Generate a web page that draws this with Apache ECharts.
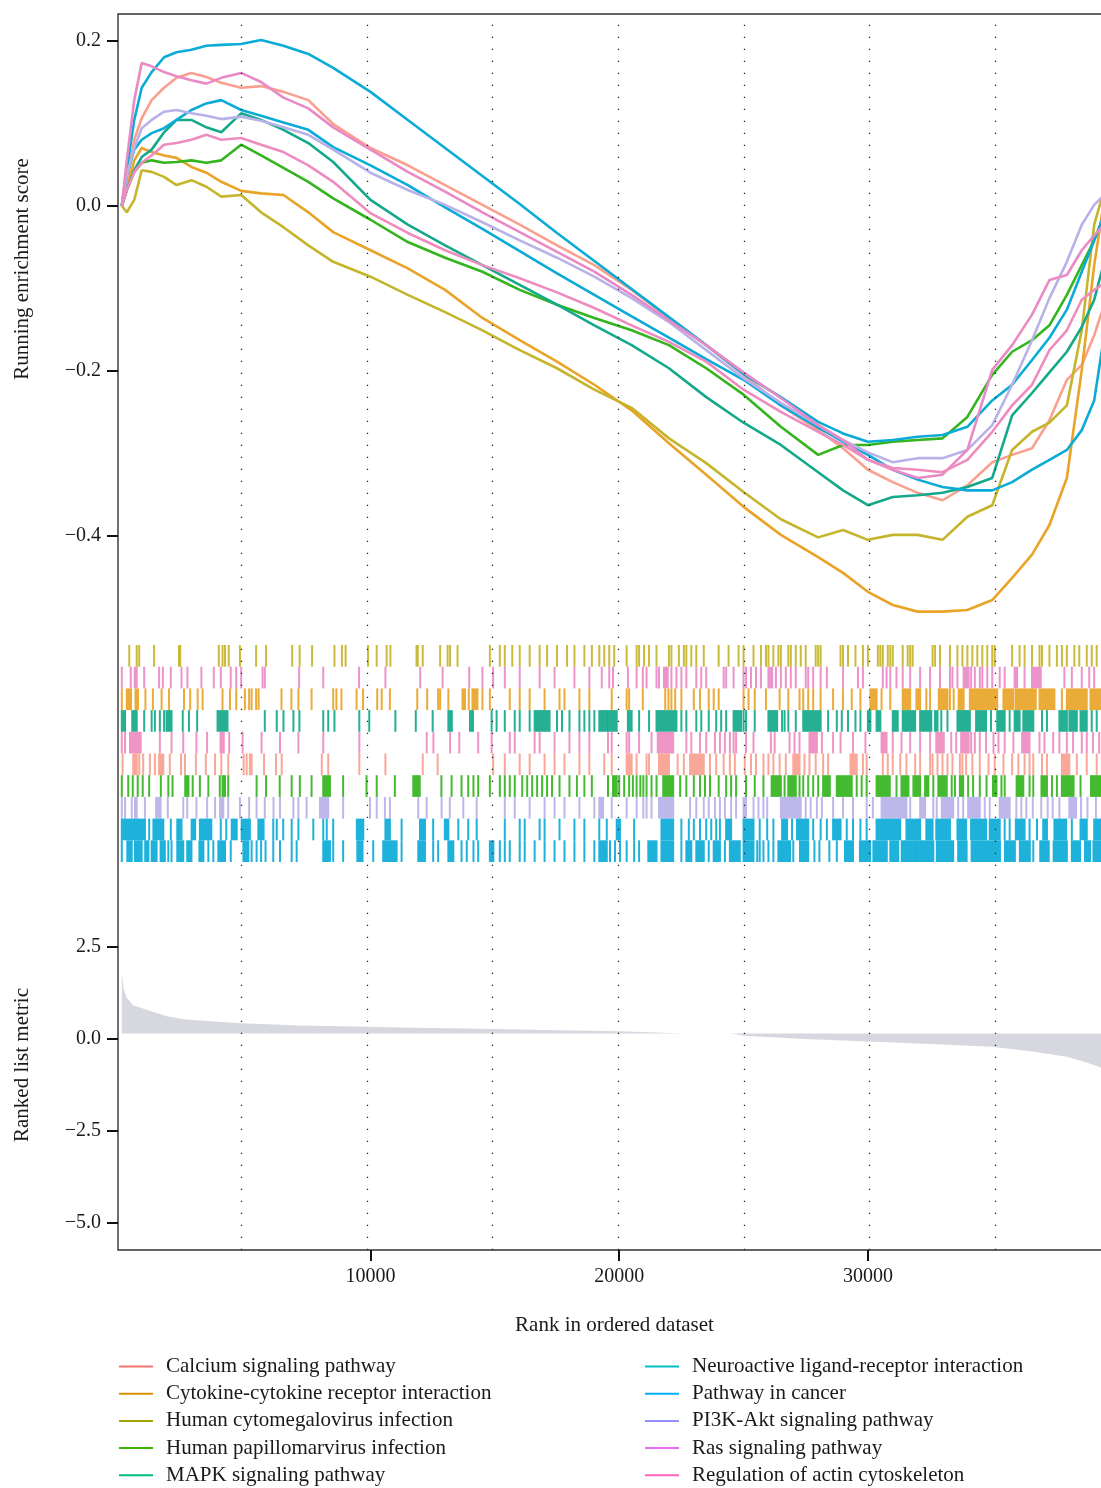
<!DOCTYPE html>
<html><head><meta charset="utf-8">
<script src="https://cdn.jsdelivr.net/npm/echarts@6/dist/echarts.min.js"></script>
<style>html,body{margin:0;padding:0;background:#fff}#c{width:1101px;height:1488px}</style>
</head><body><div id="c"></div>
<script>
const FONT = '"Liberation Serif", "DejaVu Serif", serif';

const pathways = [
  'Calcium signaling pathway', 'Cytokine-cytokine receptor interaction', 'Human cytomegalovirus infection',
  'Human papillomarvirus infection', 'MAPK signaling pathway', 'Neuroactive ligand-receptor interaction',
  'Pathway in cancer', 'PI3K-Akt signaling pathway', 'Ras signaling pathway', 'Regulation of actin cytoskeleton'
];
const legendColors = ['#F8766D', '#D89000', '#A3A500', '#39B600', '#00BF7D', '#00BFC4', '#00B0F6', '#9590FF', '#E76BF3', '#FF62BC'];
const lineColors = ['#F9A08F', '#E9A427', '#C5B52C', '#34B41F', '#14A98A', '#0BABD7', '#0BABD7', '#B8B2E8', '#E98AC6', '#EE8CC0'];

// running enrichment score (x = rank)
const esRanks = [0,200,500,800,1200,1700,2200,2800,3400,4000,4800,5600,6500,7500,8500,10000,11500,13000,14500,16000,17500,19000,20500,22000,23500,25000,26500,28000,29000,30000,31000,32000,33000,34000,35000,35800,36600,37300,38000,38600,39100,39500];
const esCalcium = [0,0.025,0.080,0.106,0.128,0.143,0.155,0.161,0.156,0.149,0.143,0.145,0.138,0.128,0.099,0.070,0.049,0.025,0.001,-0.023,-0.048,-0.072,-0.102,-0.136,-0.169,-0.205,-0.242,-0.272,-0.294,-0.320,-0.335,-0.348,-0.357,-0.339,-0.311,-0.302,-0.294,-0.260,-0.211,-0.193,-0.157,-0.120];
const esCytokine = [0,0.019,0.055,0.070,0.065,0.061,0.058,0.047,0.040,0.029,0.018,0.015,0.013,-0.008,-0.032,-0.054,-0.076,-0.102,-0.136,-0.163,-0.189,-0.217,-0.248,-0.288,-0.326,-0.365,-0.399,-0.426,-0.445,-0.468,-0.484,-0.492,-0.492,-0.490,-0.478,-0.451,-0.423,-0.387,-0.330,-0.199,-0.072,0.007];
const esCytomegalovirus = [0,-0.008,0.007,0.043,0.041,0.035,0.025,0.031,0.023,0.011,0.013,-0.008,-0.026,-0.048,-0.068,-0.086,-0.108,-0.129,-0.151,-0.175,-0.197,-0.223,-0.245,-0.282,-0.312,-0.347,-0.380,-0.402,-0.393,-0.405,-0.399,-0.399,-0.405,-0.377,-0.363,-0.296,-0.274,-0.263,-0.242,-0.151,-0.023,0.019];
const esPapilloma = [0,0.019,0.041,0.052,0.055,0.052,0.053,0.055,0.052,0.055,0.074,0.061,0.046,0.029,0.009,-0.017,-0.044,-0.063,-0.080,-0.102,-0.120,-0.136,-0.151,-0.169,-0.197,-0.229,-0.268,-0.302,-0.290,-0.290,-0.286,-0.284,-0.282,-0.256,-0.205,-0.177,-0.163,-0.145,-0.108,-0.072,-0.042,-0.011];
const esMAPK = [0,0.019,0.043,0.059,0.068,0.089,0.104,0.104,0.095,0.089,0.112,0.104,0.092,0.076,0.053,0.007,-0.023,-0.048,-0.072,-0.096,-0.120,-0.145,-0.169,-0.197,-0.232,-0.263,-0.290,-0.323,-0.345,-0.363,-0.353,-0.351,-0.348,-0.341,-0.330,-0.254,-0.227,-0.202,-0.177,-0.147,-0.114,-0.068];
const esNeuroactive = [0,0.037,0.068,0.080,0.088,0.094,0.104,0.116,0.124,0.128,0.116,0.109,0.101,0.092,0.071,0.049,0.025,-0.002,-0.028,-0.055,-0.082,-0.108,-0.134,-0.160,-0.186,-0.211,-0.242,-0.269,-0.286,-0.302,-0.320,-0.332,-0.341,-0.345,-0.345,-0.335,-0.320,-0.308,-0.296,-0.272,-0.236,-0.157];
const esCancer = [0,0.043,0.104,0.143,0.162,0.180,0.186,0.189,0.194,0.195,0.196,0.201,0.194,0.184,0.167,0.138,0.104,0.070,0.036,0.002,-0.033,-0.067,-0.101,-0.135,-0.169,-0.204,-0.232,-0.262,-0.276,-0.286,-0.284,-0.280,-0.278,-0.268,-0.236,-0.217,-0.187,-0.160,-0.126,-0.080,-0.042,-0.011];
const esPI3K = [0,0.037,0.070,0.094,0.104,0.114,0.116,0.112,0.109,0.105,0.108,0.103,0.095,0.086,0.068,0.040,0.019,0.001,-0.020,-0.042,-0.063,-0.086,-0.112,-0.141,-0.175,-0.209,-0.239,-0.266,-0.284,-0.299,-0.311,-0.306,-0.306,-0.296,-0.266,-0.217,-0.163,-0.112,-0.068,-0.023,0.001,0.013];
const esRas = [0,0.055,0.128,0.173,0.169,0.162,0.157,0.152,0.148,0.155,0.161,0.150,0.131,0.118,0.095,0.068,0.041,0.017,-0.008,-0.032,-0.056,-0.080,-0.108,-0.139,-0.169,-0.202,-0.233,-0.266,-0.284,-0.308,-0.320,-0.330,-0.326,-0.296,-0.199,-0.169,-0.132,-0.090,-0.084,-0.054,-0.036,-0.023];
const esActin = [0,0.019,0.041,0.052,0.061,0.074,0.076,0.080,0.086,0.080,0.082,0.074,0.065,0.049,0.029,-0.009,-0.033,-0.054,-0.072,-0.088,-0.105,-0.124,-0.145,-0.165,-0.189,-0.223,-0.250,-0.274,-0.290,-0.308,-0.318,-0.320,-0.323,-0.308,-0.274,-0.242,-0.217,-0.175,-0.151,-0.114,-0.102,-0.094];

// ranked list metric
const metricRanks = [0,60,200,460,1130,1800,2470,3140,4800,7170,9860,11180,15000,17500,20000,21500,22500,24500,25000,27500,30000,32500,35000,36600,38000,38700,39400,39700];
const metricValues = [1.81,1.37,1.10,0.90,0.75,0.60,0.52,0.48,0.41,0.35,0.315,0.29,0.25,0.22,0.19,0.16,0.13,0.13,0.07,-0.02,-0.09,-0.155,-0.23,-0.36,-0.50,-0.64,-0.80,-0.95];

// gene-set hit positions (ranks in thousands; pairs are dense runs)
const hitsCytomegalovirus = [0.3,0.6,0.7,1.3,2.3,2.35,3.9,4.05,4.15,4.3,4.75,5.4,5.8,6.85,7.15,7.65,8.55,8.85,9.0,9.9,10.25,10.65,10.8,11.85,11.9,12.1,12.8,13.1,13.2,13.5,14.8,15.2,15.4,15.7,16.0,16.4,16.8,17.1,17.5,17.9,18.2,18.6,18.9,19.2,19.4,19.6,19.8,20.3,20.7,20.8,21.0,21.2,21.5,22.0,22.1,22.4,22.6,22.7,22.9,23.1,23.4,24.0,24.4,24.8,25.0,25.4,25.7,25.9,26.0,26.2,26.4,26.5,26.8,26.9,27.1,27.3,27.5,27.9,28.0,28.1,28.9,29.0,29.2,29.5,29.8,30.0,30.4,30.5,30.6,30.8,30.9,31.0,31.4,31.6,31.7,31.8,32.6,32.7,32.9,33.3,33.6,33.8,34.0,34.2,34.4,34.6,34.8,35.0,35.1,35.8,36.1,36.3,36.6,36.9,37.0,37.3,37.6,37.8,38.0,38.3,38.5,38.8,39.0,39.2];
const hitsRas = [0.0,0.36,[0.52,0.6],0.9,1.5,1.65,1.97,2.4,2.64,3.2,3.7,3.98,4.38,4.6,4.8,5.66,5.75,7.13,8.1,9.54,10.6,12.0,12.9,13.97,14.5,14.93,15.4,16.0,16.8,17.4,18.2,18.8,19.3,19.6,19.75,20.35,20.7,20.95,21.1,21.5,21.6,[21.8,21.95],22.1,22.3,22.5,22.7,23.1,23.3,23.5,24.2,24.3,24.6,25.0,25.1,25.3,25.5,25.7,[26.0,26.15],26.3,26.5,26.7,26.9,27.1,27.5,27.6,27.8,28.1,28.35,29.0,29.6,29.8,30.6,30.75,30.9,31.15,31.4,31.7,32.1,32.5,32.9,33.3,33.4,33.6,[33.85,34.05],34.15,34.3,34.5,34.6,34.8,35.0,35.3,35.5,[35.9,36.0],36.3,[36.6,36.95],37.9,38.2,38.6,38.9,39.1];
const hitsCytokine = [0.0,[0.2,0.37],[0.55,0.65],0.95,1.25,1.6,1.9,2.5,2.75,3.05,3.25,4.05,4.35,4.6,4.95,5.12,5.22,5.4,5.5,6.42,6.82,7.1,7.63,8.5,8.63,8.83,9.44,9.7,10.27,10.45,10.78,11.88,12.28,12.72,12.8,13.13,[13.7,13.8],13.95,[14.1,14.3],14.5,14.8,15.6,16.0,16.4,17.0,17.6,17.8,18.4,18.8,19.7,20.3,20.4,20.95,21.85,21.98,22.1,22.25,22.5,23.0,23.25,23.6,23.8,24.0,25.0,25.2,25.45,25.9,26.45,26.8,27.25,27.4,27.6,27.8,28.1,28.6,29.0,29.35,29.7,[30.1,30.35],30.55,30.9,[31.4,31.7],[31.95,32.1],32.35,32.5,[32.85,33.2],33.3,33.45,[33.65,33.85],[34.1,35.2],[35.45,35.85],[35.95,36.75],[36.9,37.5],37.8,[38.0,38.8],[38.95,39.4]];
const hitsMAPK = [[0,0.13],[0.42,0.6],0.9,1.2,1.33,1.53,1.7,[1.8,2.0],2.45,2.7,3.03,[3.85,4.25],5.75,6.23,6.5,6.9,7.14,8.1,8.3,8.55,9.55,9.95,11.0,11.82,12.5,[13.13,13.27],[14.0,14.12],14.87,15.07,15.4,15.8,16.0,16.4,[16.6,17.2],17.5,17.7,18.0,18.4,18.6,18.8,19.0,[19.2,19.5],[19.55,19.9],[20.35,20.5],20.8,21.2,[21.5,22.3],22.5,22.7,23.1,23.3,23.6,23.9,24.1,24.3,[24.6,24.9],25.0,25.1,25.45,[26.0,26.35],26.55,26.65,26.8,27.1,[27.4,28.1],28.4,28.75,28.95,29.2,29.5,29.7,[30.0,30.1],[30.35,30.5],[31.0,31.2],[31.4,31.9],[32.1,32.55],[32.7,32.8],32.95,33.2,[33.6,34.1],[34.35,34.75],34.95,[35.2,35.5],35.7,[35.9,36.1],[36.25,36.65],37.0,37.2,[37.7,38.0],[38.1,38.4],[38.55,38.8],39.0,39.2];
const hitsActin = [0.0,0.13,[0.33,0.76],1.53,2.0,2.47,3.0,3.43,[3.97,4.1],4.32,4.86,5.62,6.36,7.1,8.1,9.55,12.26,12.53,13.2,13.57,14.33,14.87,15.6,15.8,16.6,16.8,17.4,18.0,18.4,18.8,19.55,19.7,20.3,20.4,20.8,21.3,[21.55,22.17],22.7,22.9,23.25,23.5,23.85,24.05,24.25,24.45,24.6,24.7,25.1,25.4,26.1,26.25,26.85,27.05,27.25,[27.65,27.95],28.15,28.6,28.9,29.4,29.9,[30.55,30.75],31.0,31.35,31.7,32.1,32.5,[32.75,33.05],33.35,33.55,[33.75,34.05],34.15,34.3,34.5,34.75,35.05,35.25,35.5,35.85,[36.2,36.5],36.9,37.1,37.45,37.7,38.0,38.25,38.6,38.8,39.05,39.3];
const hitsCalcium = [0.03,[0.46,0.6],0.7,0.86,1.13,1.33,[1.5,1.67],1.93,2.38,2.54,2.98,3.38,3.75,4.0,4.28,4.9,5.02,5.15,5.22,5.72,6.2,6.43,8.04,8.3,9.55,10.6,12.1,12.7,14.93,15.4,16.0,16.4,17.0,17.4,17.8,18.4,18.8,19.4,19.7,[20.3,20.5],20.7,21.1,21.2,[21.6,22.0],22.35,22.6,[22.85,23.4],23.65,23.9,24.2,24.45,24.65,25.05,25.3,25.5,25.8,26.0,26.2,26.45,26.7,[27.0,27.25],27.45,27.65,27.9,28.2,28.4,[29.3,29.55],29.8,29.95,30.6,30.8,31.0,31.3,31.55,31.9,32.1,32.5,32.6,32.8,33.0,33.2,33.4,33.7,33.8,33.95,34.2,34.5,34.85,35.1,35.45,35.8,36.05,36.3,36.5,36.65,37.0,37.2,[37.8,38.1],38.4,38.8,39.2];
const hitsPapilloma = [0.0,0.26,0.44,0.64,0.84,1.1,1.57,1.87,2.04,[2.55,2.68],2.85,3.14,3.48,3.94,[4.05,4.15],4.28,5.42,5.8,6.35,6.83,7.16,7.63,[8.1,8.37],8.9,9.84,10.25,10.98,[11.72,11.98],12.85,13.26,13.66,13.93,14.14,14.33,14.8,15.2,15.4,15.6,15.8,16.1,16.3,16.5,16.7,16.9,17.1,17.3,17.6,18.0,18.3,18.6,18.9,19.55,[19.75,19.9],20.0,20.2,20.4,20.55,20.7,20.85,20.97,21.1,21.3,21.5,[21.77,22.17],22.45,22.7,23.0,23.25,23.45,23.65,24.0,24.3,24.5,24.7,25.1,25.45,25.8,[26.13,26.5],26.65,[26.8,27.1],27.25,27.4,27.6,27.8,28.0,[28.2,28.47],[28.75,29.35],29.55,29.75,29.95,[30.35,30.88],31.15,[31.35,31.63],[31.83,32.1],[32.3,32.43],32.63,[32.83,33.17],33.37,33.5,[33.7,33.83],34.03,34.23,34.5,34.77,[35.03,35.17],35.37,35.5,[35.98,36.25],36.5,36.65,[36.98,37.2],37.4,37.6,[37.8,38.27],38.55,[38.97,39.4]];
const hitsPI3K = [0.0,0.13,0.4,0.53,0.6,0.93,[1.38,1.56],1.85,2.47,2.63,3.0,3.43,3.75,[3.95,4.08],4.28,4.75,5.12,5.42,5.75,6.1,6.36,6.9,7.1,7.43,[7.97,8.3],8.9,9.98,10.25,10.58,10.78,11.92,12.26,12.86,13.19,13.73,14.27,15.4,15.8,16.4,17.0,17.4,17.8,18.4,19.0,[19.2,19.35],19.7,20.3,20.7,20.97,21.1,21.3,[21.6,22.17],22.85,23.1,23.4,23.6,23.85,24.05,24.25,24.5,24.7,[25.0,25.1],25.4,25.6,25.8,25.95,[26.5,27.3],27.5,27.7,27.95,28.15,28.6,29.0,29.4,29.95,30.2,[30.55,31.55],31.7,[32.1,32.3],32.63,32.77,[32.97,33.43],33.63,33.83,[34.03,34.5],34.7,34.9,[35.3,35.7],35.97,36.17,36.37,36.63,36.97,37.23,37.43,37.7,[38.1,38.37],38.57,38.83,39.17];
const hitsCancer = [0.0,[0.06,0.93],1.1,[1.27,1.67],1.97,[2.23,2.4],[2.81,2.95],[3.14,3.6],3.98,4.2,[4.42,4.62],[4.82,5.15],[5.49,5.7],6.09,6.23,6.49,6.83,7.1,7.7,8.1,8.24,8.5,[9.45,9.71],[10.6,10.78],11.25,[11.99,12.19],12.52,[12.99,13.13],13.53,13.93,14.27,15.4,16.0,16.2,16.8,17.0,17.6,18.2,18.6,19.2,19.5,[19.9,20.03],20.6,[21.7,22.17],22.5,22.8,23.0,23.25,23.5,23.7,23.9,24.05,[24.3,24.5],[25.0,25.4],25.65,25.95,26.2,[26.55,26.75],26.95,[27.15,27.6],27.8,28.1,28.35,[28.6,28.9],29.15,29.4,29.7,29.95,[30.35,31.3],[31.55,32.1],[32.35,32.6],[32.75,33.3],[33.6,33.95],[34.15,34.75],[34.9,35.3],35.5,35.7,[35.95,36.3],36.5,36.8,[37.05,37.2],[37.5,37.97],38.2,[38.55,38.8],[39.1,39.4]];
const hitsNeuroactive = [0.0,[0.22,0.4],[0.53,0.8],[0.94,1.07],[1.2,1.4],[1.56,1.73],1.87,2.0,[2.23,2.47],[2.63,2.8],[3.12,3.28],3.48,3.68,[3.88,4.15],4.38,[4.89,5.09],5.22,5.42,5.6,5.78,6.09,6.36,6.83,7.03,[8.1,8.37],8.5,8.9,[9.47,9.68],10.11,[10.51,11.05],11.25,[11.92,12.19],12.52,12.72,[13.13,13.33],13.66,13.87,14.14,14.33,[14.8,14.94],15.2,15.4,15.6,16.0,16.2,16.6,17.0,17.4,17.8,18.2,18.6,19.0,[19.2,19.5],19.63,19.83,20.03,20.3,20.6,20.8,[21.17,21.5],[21.7,22.17],22.5,[22.7,22.9],[23.1,23.4],23.6,[23.8,24.05],24.25,[24.45,24.85],[25.0,25.4],25.55,25.65,25.8,26.0,26.2,[26.4,26.87],27.0,[27.27,27.6],27.85,28.05,28.45,28.75,[29.08,29.4],[29.68,30.09],[30.22,30.76],[30.9,31.22],[31.36,31.9],[31.96,32.63],[32.77,33.43],[33.63,33.97],[34.17,35.31],[35.51,35.91],[36.11,36.51],36.65,[36.93,37.27],[37.47,38.0],[38.2,38.53],[38.73,38.93],[39.07,39.4]];

const esTicks = [0.2, 0, -0.2, -0.4];
const metricTicks = [2.5, 0, -2.5, -5];
const rankTicks = [10000, 20000, 30000];
const gridLineRanks = [5000, 10000, 15000, 20000, 25000, 30000, 35000];

const esByPathway = [esCalcium, esCytokine, esCytomegalovirus, esPapilloma, esMAPK, esNeuroactive, esCancer, esPI3K, esRas, esActin];
// rug rows, top to bottom
const rugRows = [
  ['Human cytomegalovirus infection', hitsCytomegalovirus],
  ['Ras signaling pathway', hitsRas],
  ['Cytokine-cytokine receptor interaction', hitsCytokine],
  ['MAPK signaling pathway', hitsMAPK],
  ['Regulation of actin cytoskeleton', hitsActin],
  ['Calcium signaling pathway', hitsCalcium],
  ['Human papillomarvirus infection', hitsPapilloma],
  ['PI3K-Akt signaling pathway', hitsPI3K],
  ['Pathway in cancer', hitsCancer],
  ['Neuroactive ligand-receptor interaction', hitsNeuroactive]
];

const X_MIN = -153, X_MAX = 39775;
const minus = v => (v < 0 ? '\u2212' : '') + Math.abs(v).toFixed(1);
const colorOf = name => lineColors[pathways.indexOf(name)];

const rugData = [];
rugRows.forEach(([name, hits], r) => {
  hits.forEach(h => {
    const a = Array.isArray(h) ? h[0] : h, b = Array.isArray(h) ? h[1] : h;
    rugData.push([a * 1000, b * 1000, r]);
  });
});

const series = [];
series.push({
  type: 'line', xAxisIndex: 4, yAxisIndex: 4, data: [[0, 0], [1, 0]], showSymbol: false, silent: true, z: 1,
  lineStyle: {opacity: 0},
  markLine: {silent: true, symbol: 'none', label: {show: false}, animation: false,
    lineStyle: {type: [1.3, 10.7], color: '#222', width: 1.3},
    data: gridLineRanks.map(v => ({xAxis: v}))}
});
series.push({
  type: 'line', xAxisIndex: 2, yAxisIndex: 2, showSymbol: false, silent: true, z: 2,
  data: metricRanks.map((r, i) => [r, metricValues[i]]),
  lineStyle: {width: 0}, areaStyle: {color: '#D7D7DF', opacity: 1, origin: 0.13}
});
series.push({
  type: 'custom', xAxisIndex: 1, yAxisIndex: 1, data: rugData, z: 3, silent: true,
  encode: {x: [0, 1], y: 2},
  renderItem(params, api) {
    const a = api.value(0), b = api.value(1), r = api.value(2);
    const p0 = api.coord([a, r]), p1 = api.coord([b, r + 1]);
    const x0 = p0[0] - 1, x1 = p1[0] + 1;
    return {type: 'rect', shape: {x: x0, y: p0[1], width: x1 - x0, height: p1[1] - p0[1]},
      style: {fill: colorOf(rugRows[r][0]), opacity: 0.92}};
  }
});
pathways.forEach((name, i) => {
  series.push({
    name, type: 'line', xAxisIndex: 0, yAxisIndex: 0, showSymbol: false, z: 4,
    data: esRanks.map((r, j) => [r, esByPathway[i][j]]),
    lineStyle: {width: 2.6, color: lineColors[i]}, itemStyle: {color: lineColors[i]}
  });
});

const tickStyle = {show: true, length: 11, lineStyle: {color: '#111', width: 2}};
const labelStyle = {fontFamily: FONT, fontSize: 20, color: '#1a1a1a'};
const hiddenX = (gi, min, max) => ({gridIndex: gi, type: 'value', min, max, show: false, splitLine: {show: false}});
const hiddenY = (gi, min, max, inv) => ({gridIndex: gi, type: 'value', min, max, inverse: !!inv, show: false, splitLine: {show: false}});

function legendBlock(names, left) {
  return {
    orient: 'vertical', left, top: 1356, padding: 0, icon: 'rect', itemWidth: 34, itemHeight: 2, itemGap: 6.2,
    selectedMode: false,
    textStyle: {fontFamily: FONT, fontSize: 21, color: '#1a1a1a', padding: [0, 0, 0, 8], lineHeight: 21},
    data: names.map(n => ({name: n, itemStyle: {color: legendColors[pathways.indexOf(n)]}}))
  };
}

const option = {
  animation: false,
  backgroundColor: '#fff',
  textStyle: {fontFamily: FONT},
  grid: [
    {left: 118, right: -10, top: 14, height: 626, outerBoundsMode: 'none'},
    {left: 118, right: -10, top: 645, height: 217, outerBoundsMode: 'none'},
    {left: 118, right: -10, top: 870, bottom: 238, outerBoundsMode: 'none'},
    {left: 118, right: -10, top: 14, bottom: 238, show: true, borderColor: '#333', borderWidth: 1.4, backgroundColor: 'transparent', outerBoundsMode: 'none'},
    {left: 115.6, right: -10, top: 14, bottom: 238, outerBoundsMode: 'none'}
  ],
  xAxis: [
    hiddenX(0, X_MIN, X_MAX),
    hiddenX(1, X_MIN, X_MAX),
    {gridIndex: 2, type: 'value', min: X_MIN, max: X_MAX, position: 'bottom',
      axisLine: {show: false, onZero: false}, splitLine: {show: false},
      axisTick: Object.assign({customValues: rankTicks}, tickStyle),
      axisLabel: Object.assign({customValues: rankTicks, margin: 17, formatter: v => String(v)}, labelStyle),
      name: 'Rank in ordered dataset', nameLocation: 'middle', nameGap: 65,
      nameTextStyle: {fontFamily: FONT, fontSize: 21, color: '#1a1a1a'}},
    hiddenX(3, 0, 1),
    hiddenX(4, 0, 39604)
  ],
  yAxis: [
    {gridIndex: 0, type: 'value', min: -0.5264, max: 0.2324,
      axisLine: {show: false, onZero: false}, splitLine: {show: false},
      axisTick: Object.assign({customValues: esTicks}, tickStyle),
      axisLabel: Object.assign({customValues: esTicks, margin: 17, formatter: minus}, labelStyle)},
    hiddenY(1, 0, 10, true),
    {gridIndex: 2, type: 'value', min: -5.753, max: 4.573,
      axisLine: {show: false, onZero: false}, splitLine: {show: false},
      axisTick: Object.assign({customValues: metricTicks}, tickStyle),
      axisLabel: Object.assign({customValues: metricTicks, margin: 17, formatter: minus}, labelStyle)},
    hiddenY(3, 0, 1),
    hiddenY(4, 0, 1)
  ],
  legend: [legendBlock(pathways.slice(0, 5), 119), legendBlock(pathways.slice(5), 645)],
  graphic: [
    {type: 'text', x: 22, y: 269, rotation: Math.PI / 2, silent: true,
      style: {text: 'Running enrichment score', font: '21px ' + FONT, fill: '#1a1a1a', align: 'center', verticalAlign: 'middle'}},
    {type: 'text', x: 22, y: 1065, rotation: Math.PI / 2, silent: true,
      style: {text: 'Ranked list metric', font: '21px ' + FONT, fill: '#1a1a1a', align: 'center', verticalAlign: 'middle'}}
  ],
  series
};

const chart = echarts.init(document.getElementById('c'), null, {renderer: 'canvas', width: 1101, height: 1488});
chart.setOption(option);
</script>
</body></html>
